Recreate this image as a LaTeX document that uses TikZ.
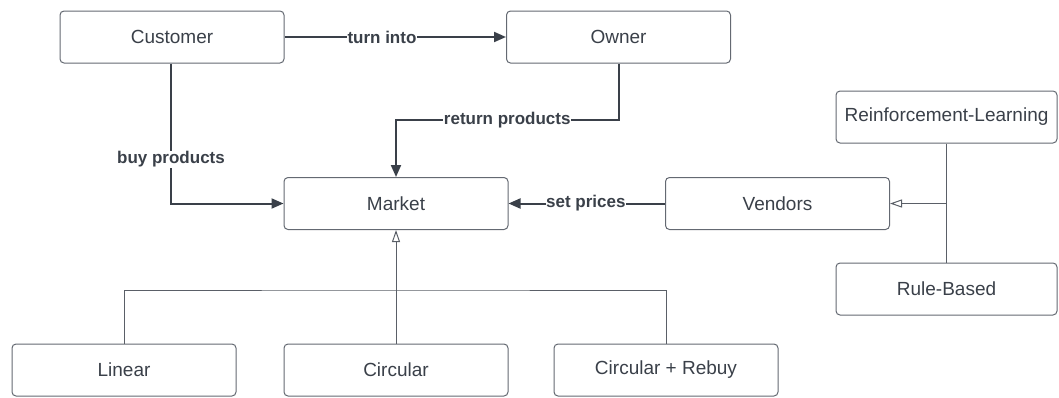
\documentclass[tikz,border=0pt]{standalone}
\usepackage{fontspec}
\setmainfont{Liberation Sans}
\usetikzlibrary{arrows.meta}
\definecolor{ink}{HTML}{3A4049}
\definecolor{frame}{HTML}{646972}
\definecolor{wire}{HTML}{5A5F67}
\tikzset{
  box/.style={draw=frame, line width=1pt, rounded corners=4pt, fill=white,
    minimum width=224pt, minimum height=52pt, inner sep=0pt,
    text=ink, font=\fontsize{19}{22}\selectfont},
  flow/.style={draw=ink, line width=2pt, -{Triangle[length=12pt,width=10pt]}},
  tag/.style={fill=white, text=ink, inner sep=0.6pt,
    font=\fontsize{17}{20}\selectfont\bfseries},
  wireline/.style={draw=wire, line width=1pt},
  inherit/.style={wireline, -{Triangle[open,length=12pt,width=8pt]}}
}
\begin{document}
\begin{tikzpicture}[x=1pt,y=-1pt]
\useasboundingbox (0,0) rectangle (1059,397);

% boxes
\node[box] (customer) at (172,37)  {Customer};
\node[box] (owner)    at (618.5,37) {Owner};
\node[box] (market)   at (396,203.5) {Market};
\node[box] (vendors)  at (777.5,203.5) {Vendors};
\node[box, minimum width=221pt] (rl) at (946.5,117) {Reinforcement-Learning};
\node[box, minimum width=221pt] (rb) at (946.5,289) {Rule-Based};
\node[box] (linear)   at (124,370)  {Linear};
\node[box] (circular) at (396,370)  {Circular};
\node[box] (crb)      at (666,370)  {Circular + Rebuy};

% junction points
\coordinate (bus) at (396,290);
\coordinate (ret) at (396,120);

% flows between actors
\draw[flow] (customer.east) -- node[tag, pos=0.44] (t1) {turn into} (owner.west);
\draw[flow] (customer.south -| 171,0) |- node[tag, pos=0.343] (t2) {buy products} (market.west);
\draw[flow] (owner.south) |- node[tag, pos=0.75] (t3) {return products} (ret) -- (market.north);
\draw[flow] (vendors.west) -- node[tag, pos=0.506] (t4) {set prices} (market.east);

% specialisations
\draw[wireline] (linear.north) |- (bus) -| (crb.north);
\draw[inherit] (circular.north) -- (market.south);
\draw[wireline] (rl.south) -- (rb.north);
\draw[inherit] (rl.south |- vendors.east) -- (vendors.east);
\end{tikzpicture}
\end{document}
